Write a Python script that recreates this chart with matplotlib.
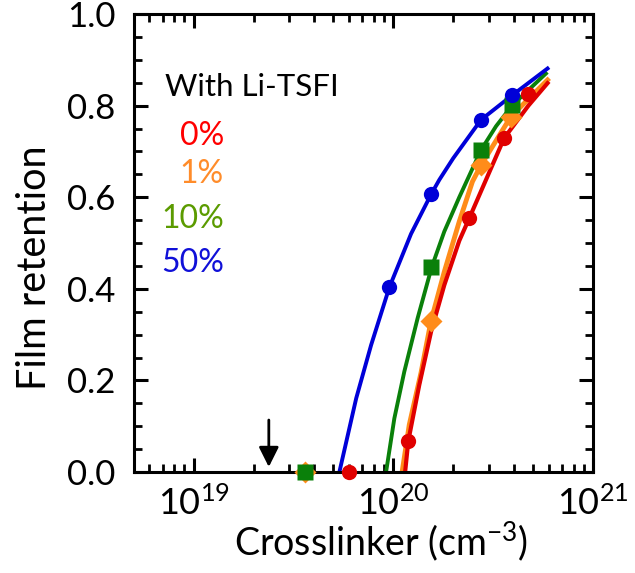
import matplotlib
matplotlib.use("Agg")
import matplotlib.pyplot as plt
from matplotlib.ticker import LogLocator, MultipleLocator, FormatStrFormatter, NullFormatter

plt.rcParams['font.family'] = ['Lato', 'DejaVu Sans']
plt.rcParams['mathtext.fontset'] = 'custom'
plt.rcParams['mathtext.rm'] = 'Lato'
plt.rcParams['mathtext.it'] = 'Lato:italic'
plt.rcParams['mathtext.default'] = 'regular'

# ---- measured data points ----
red_x = [5.98e19, 1.19e20, 2.40e20, 3.59e20, 4.75e20]
red_y = [0.0, 0.068, 0.554, 0.729, 0.825]
orange_x = [3.6e19, 1.545e20, 2.745e20, 3.88e20]
orange_y = [0.0, 0.330, 0.670, 0.776]
green_x = [3.6e19, 1.55e20, 2.745e20, 3.95e20]
green_y = [0.0, 0.447, 0.703, 0.801]
blue_x = [9.55e19, 1.545e20, 2.745e20, 3.95e20]
blue_y = [0.403, 0.606, 0.769, 0.823]

# ---- fitted curves ----
red_fit_x = [1.146e20, 1.189e20, 1.349e20, 1.545e20, 1.80e20, 2.14e20, 2.40e20, 3.59e20, 4.75e20, 5.92e20]
red_fit_y = [0.0, 0.068, 0.190, 0.306, 0.408, 0.505, 0.554, 0.729, 0.800, 0.849]
orange_fit_x = [1.107e20, 1.202e20, 1.377e20, 1.545e20, 1.80e20, 2.14e20, 2.49e20, 2.75e20, 3.88e20, 5.92e20]
orange_fit_y = [0.0, 0.103, 0.217, 0.330, 0.437, 0.547, 0.634, 0.670, 0.776, 0.856]
green_fit_x = [9.2e19, 1.012e20, 1.135e20, 1.324e20, 1.556e20, 1.80e20, 2.14e20, 2.75e20, 3.27e20, 3.95e20, 5.81e20]
green_fit_y = [0.0, 0.117, 0.219, 0.336, 0.447, 0.525, 0.600, 0.703, 0.755, 0.801, 0.870]
blue_fit_x = [5.37e19, 6.52e19, 7.74e19, 9.55e19, 1.227e20, 1.545e20, 1.70e20, 1.995e20, 2.75e20, 3.95e20, 5.92e20]
blue_fit_y = [0.0, 0.161, 0.277, 0.403, 0.520, 0.606, 0.638, 0.685, 0.769, 0.823, 0.881]

arrow_x = 2.38e19
arrow_y_top = 0.1135
arrow_y_tip = 0.011

legend_title = "With Li-TSFI"
legend_labels = ["0%", "1%", "10%", "50%"]
legend_colors = ["#ff0000", "#ff8c2a", "#5b9b00", "#1010d8"]

c_red = "#e00000"
c_orange = "#ff8c1a"
c_green = "#0a800a"
c_blue = "#0000d8"

fig = plt.figure(figsize=(6.35, 5.73), dpi=100)
W, H = 635, 573
ax = fig.add_axes([133.5 / W, 1 - 472 / H, (593 - 133.5) / W, (472 - 14) / H])

# lines
ax.plot(green_fit_x, green_fit_y, color=c_green, lw=2.8, zorder=2)
ax.plot(orange_fit_x, orange_fit_y, color=c_orange, lw=3.5, zorder=2.1)
ax.plot(red_fit_x, red_fit_y, color=c_red, lw=3.0, zorder=2.2)
ax.plot(blue_fit_x, blue_fit_y, color=c_blue, lw=2.8, zorder=2.3)

# markers
ax.plot(red_x, red_y, 'o', color=c_red, ms=11, mec='none', zorder=5, clip_on=False)
ax.plot(orange_x, orange_y, 'D', color=c_orange, ms=11, mec='none', zorder=5.1, clip_on=False)
ax.plot(green_x, green_y, 's', color=c_green, ms=11, mec='none', zorder=5.2, clip_on=False)
ax.plot(blue_x, blue_y, 'o', color=c_blue, ms=11, mec='none', zorder=5.3, clip_on=False)

ax.annotate('', xy=(arrow_x, arrow_y_tip), xytext=(arrow_x, arrow_y_top),
            arrowprops=dict(arrowstyle='-|>,head_length=1.2,head_width=0.6',
                            lw=2, color='black', shrinkA=0, shrinkB=0,
                            mutation_scale=10))

ax.set_xscale('log')
ax.set_xlim(5e18, 1e21)
ax.set_ylim(0, 1.0)
ax.xaxis.set_major_locator(LogLocator(base=10, numticks=10))
ax.xaxis.set_minor_locator(LogLocator(base=10, subs=range(2, 10), numticks=20))
ax.xaxis.set_minor_formatter(NullFormatter())
ax.yaxis.set_major_locator(MultipleLocator(0.2))
ax.yaxis.set_minor_locator(MultipleLocator(0.05))
ax.yaxis.set_major_formatter(FormatStrFormatter('%.1f'))

for s in ax.spines.values():
    s.set_linewidth(2.2)
ax.tick_params(which='both', direction='in', top=True, right=True)
ax.tick_params(which='major', length=10, width=2.2)
ax.tick_params(which='minor', length=5.5, width=2.0)
ax.tick_params(axis='y', which='major', pad=13, labelsize=25)
ax.tick_params(axis='x', which='major', pad=10, labelsize=26)

ax.set_xlabel("Crosslinker (cm$^{-3}$)", fontsize=27)
ax.set_ylabel("Film retention", fontsize=28.5)
ax.xaxis.set_label_coords((381.5 - 133.5) / 459.5, (472 - 519) / 458)
ax.yaxis.set_label_coords((53 - 133.5) / 459.5, (472 - 267.5) / 458)

fig.text(165 / W, 1 - 96 / H, legend_title, fontsize=22.5, ha='left', va='baseline')
ys = [145, 183, 228, 272]
for lab, col, yy in zip(legend_labels, legend_colors, ys):
    fig.text(224 / W, 1 - yy / H, lab, fontsize=23, color=col, ha='right', va='baseline')

fig.savefig("out.png", dpi=100)
